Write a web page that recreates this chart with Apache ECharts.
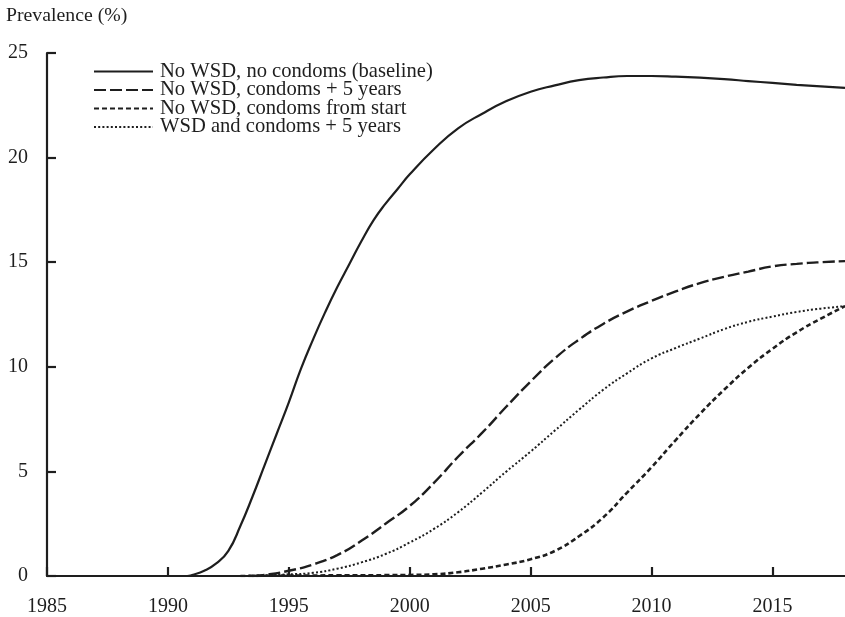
<!DOCTYPE html>
<html>
<head>
<meta charset="utf-8">
<script src="https://cdn.jsdelivr.net/npm/echarts@6/dist/echarts.min.js"></script>
<style>html,body{margin:0;padding:0;background:#fff}#c{width:845px;height:617px}</style>
</head>
<body>
<div id="c"></div>
<script>
var seriesNames = ['No WSD, no condoms (baseline)', 'No WSD, condoms + 5 years', 'No WSD, condoms from start', 'WSD and condoms + 5 years'];
var xTicks = [1985, 1990, 1995, 2000, 2005, 2010, 2015];
var yTicks = [0, 5, 10, 15, 20, 25];

var baselineYears = [1985, 1990.8, 1991, 1991.5, 1992, 1992.5, 1993, 1993.5, 1994, 1994.5, 1995, 1995.5, 1996, 1996.5, 1997, 1997.5, 1998, 1998.5, 1999, 1999.5, 2000, 2001, 2002, 2003, 2004, 2005, 2006, 2007, 2008, 2009, 2010, 2011, 2012, 2013, 2014, 2015, 2016, 2017, 2018];
var baselineValues = [0, 0, 0.05, 0.25, 0.6, 1.2, 2.4, 3.8, 5.3, 6.8, 8.3, 9.9, 11.3, 12.6, 13.8, 14.9, 16.0, 17.0, 17.8, 18.5, 19.2, 20.4, 21.4, 22.1, 22.7, 23.15, 23.45, 23.7, 23.83, 23.9, 23.9, 23.87, 23.82, 23.75, 23.66, 23.57, 23.48, 23.4, 23.33];

var plus5Years = [1993.5, 1994, 1995, 1996, 1997, 1998, 1999, 2000, 2001, 2002, 2003, 2004, 2005, 2006, 2007, 2008, 2009, 2010, 2011, 2012, 2013, 2014, 2015, 2016, 2017, 2018];
var plus5Values = [0, 0.05, 0.25, 0.55, 1.0, 1.68, 2.5, 3.35, 4.45, 5.7, 6.85, 8.1, 9.3, 10.4, 11.3, 12.05, 12.65, 13.15, 13.6, 14.0, 14.3, 14.55, 14.8, 14.92, 15.0, 15.05];

var startYears = [1993, 1995, 1997, 1999, 2000, 2001, 2002, 2003, 2004, 2005, 2006, 2007, 2008, 2009, 2010, 2011, 2012, 2013, 2014, 2015, 2016, 2017, 2018];
var startValues = [0, 0.02, 0.03, 0.04, 0.05, 0.08, 0.18, 0.35, 0.55, 0.8, 1.2, 1.9, 2.8, 4.0, 5.2, 6.5, 7.75, 8.9, 9.95, 10.86, 11.65, 12.3, 12.9];

var wsdYears = [1993, 1994, 1995, 1996, 1997, 1998, 1999, 2000, 2001, 2002, 2003, 2004, 2005, 2006, 2007, 2008, 2009, 2010, 2011, 2012, 2013, 2014, 2015, 2016, 2017, 2018];
var wsdValues = [0, 0.03, 0.08, 0.15, 0.35, 0.65, 1.05, 1.6, 2.25, 3.05, 4.0, 5.0, 5.95, 6.95, 7.95, 8.9, 9.7, 10.4, 10.9, 11.35, 11.8, 12.15, 12.4, 12.62, 12.78, 12.9];

function pairs(xs, ys) { return xs.map(function (x, i) { return [x, ys[i]]; }); }

var FONT = '"Liberation Serif", "DejaVu Serif", serif';
var INK = '#1e1e1e';

function mk(name, data, width, dash) {
  return {
    name: name, type: 'line', data: data, symbol: 'none', showSymbol: false, smooth: 0.5,
    lineStyle: { color: INK, width: width, type: dash, cap: 'butt' },
    itemStyle: { color: INK, opacity: 0 },
    emphasis: { disabled: true }, silent: true, animation: false
  };
}

var chart = echarts.init(document.getElementById('c'), null, { renderer: 'canvas' });
chart.setOption({
  animation: false,
  backgroundColor: '#fff',
  title: {
    text: 'Prevalence (%)', left: 6, top: 6, padding: 0,
    textStyle: { fontFamily: FONT, fontSize: 19.8, fontWeight: 'normal', color: INK }
  },
  legend: {
    orient: 'vertical', left: 88, top: 56,
    itemWidth: 59, itemHeight: 10, itemGap: -2.5,
    data: seriesNames,
    selectedMode: false,
    itemStyle: { opacity: 0, borderWidth: 0 },
    textStyle: { fontFamily: FONT, fontSize: 20.6, color: INK, padding: [0, 0, 0, 2] }
  },
  grid: { left: 47, right: 0, top: 53, bottom: 39, containLabel: false },
  xAxis: {
    type: 'value', min: 1985, max: 2018, interval: 5,
    axisLine: { lineStyle: { color: INK, width: 2.2 } },
    axisTick: { inside: true, length: 9, lineStyle: { color: INK, width: 2.2 }, customValues: xTicks },
    axisLabel: { customValues: xTicks, fontFamily: FONT, fontSize: 20, color: INK, margin: 21,
      formatter: function (v) { return String(v); } },
    splitLine: { show: false }
  },
  yAxis: {
    type: 'value', min: 0, max: 25, interval: 5,
    axisLine: { show: true, lineStyle: { color: INK, width: 2.2 } },
    axisTick: { show: true, inside: true, length: 9, lineStyle: { color: INK, width: 2.2 }, customValues: yTicks },
    axisLabel: { customValues: yTicks, fontFamily: FONT, fontSize: 20, color: INK, margin: 19 },
    splitLine: { show: false }
  },
  series: [
    mk(seriesNames[0], pairs(baselineYears, baselineValues), 2.2, 'solid'),
    mk(seriesNames[1], pairs(plus5Years, plus5Values), 2.4, [12, 4]),
    mk(seriesNames[2], pairs(startYears, startValues), 2.6, [5, 3]),
    mk(seriesNames[3], pairs(wsdYears, wsdValues), 2.0, [2, 2.2])
  ]
});
</script>
</body>
</html>
